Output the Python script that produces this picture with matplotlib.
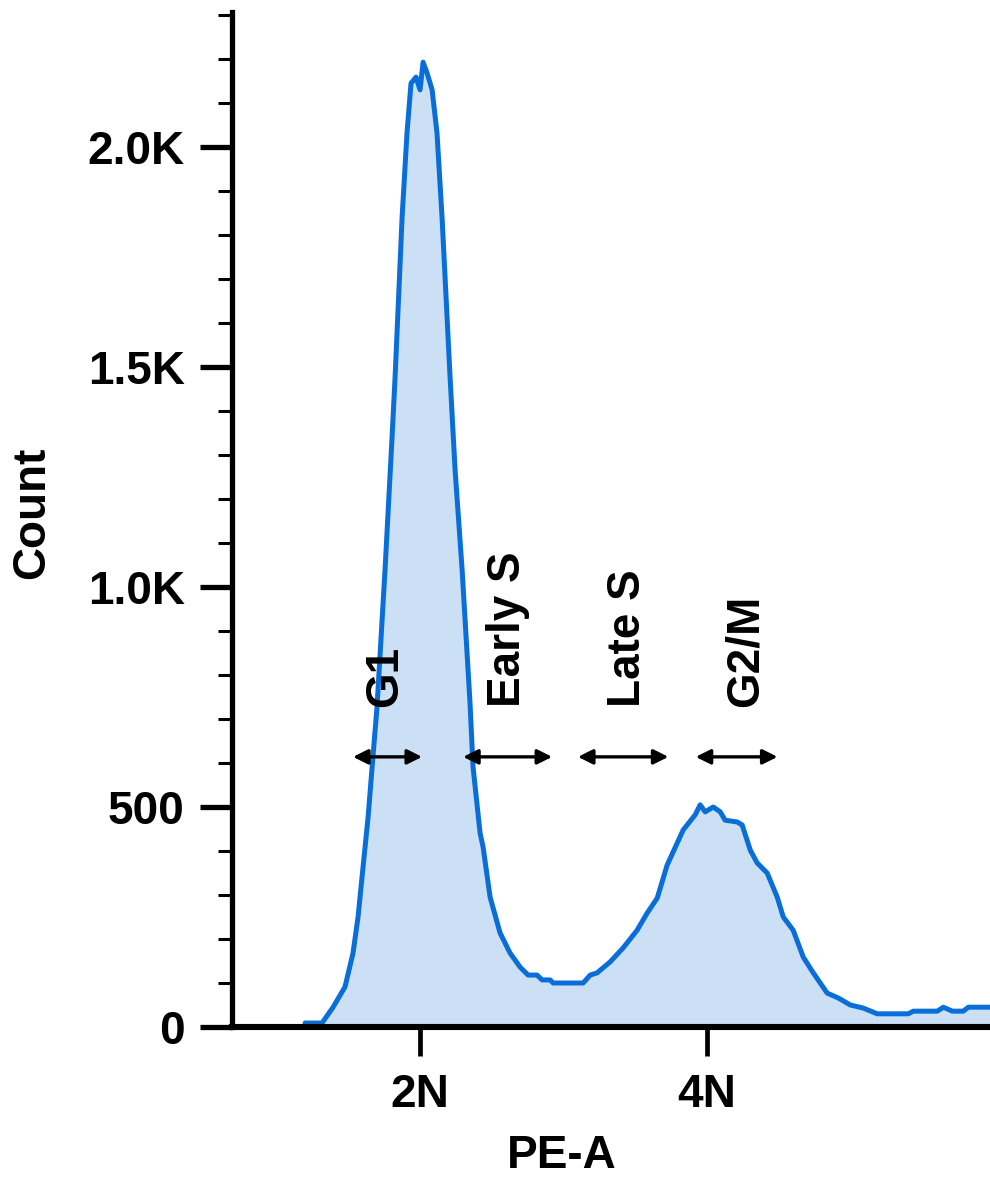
import matplotlib
matplotlib.use('Agg')
import matplotlib.pyplot as plt
from matplotlib.ticker import FixedLocator, MultipleLocator

plt.rcParams['font.family'] = ['Liberation Sans', 'DejaVu Sans']
plt.rcParams['font.weight'] = 'bold'

# PE-A (in units of N) and event counts
pe_a = [1.199, 1.317, 1.394, 1.477, 1.533, 1.568, 1.603, 1.638, 1.666, 1.700,
        1.756, 1.805, 1.826, 1.875, 1.909, 1.937, 1.972, 2.000, 2.021, 2.049,
        2.084, 2.118, 2.153, 2.188, 2.209, 2.244, 2.293, 2.348, 2.369, 2.418,
        2.439, 2.488, 2.557, 2.627, 2.697, 2.753, 2.815, 2.850, 2.906, 2.927,
        3.136, 3.185, 3.233, 3.324, 3.415, 3.512, 3.582, 3.652, 3.721, 3.833,
        3.916, 3.951, 3.986, 4.042, 4.091, 4.125, 4.209, 4.244, 4.300, 4.348,
        4.418, 4.488, 4.530, 4.599, 4.669, 4.739, 4.836, 4.913, 4.997, 5.087,
        5.185, 5.401, 5.436, 5.603, 5.645, 5.707, 5.784, 5.819, 5.972]
count = [9, 9, 45, 91, 168, 250, 364, 477, 591, 727,
         1039, 1341, 1477, 1841, 2032, 2145, 2159, 2130, 2193, 2168,
         2130, 2032, 1841, 1614, 1477, 1266, 1039, 736, 591, 441,
         409, 295, 214, 168, 136, 118, 118, 107, 107, 100,
         100, 118, 123, 148, 180, 220, 259, 293, 368, 448,
         482, 505, 489, 500, 489, 470, 466, 459, 402, 373,
         350, 295, 250, 220, 159, 123, 77, 66, 50, 43,
         30, 30, 36, 36, 45, 36, 36, 45, 45]

x_ticks = [2, 4]
x_tick_labels = ['2N', '4N']
y_ticks = [0, 500, 1000, 1500, 2000]
y_tick_labels = ['0', '500', '1.0K', '1.5K', '2.0K']

phases = ['G1', 'Early S', 'Late S', 'G2/M']
phase_start = [1.533, 2.30, 3.10, 3.92]
phase_end = [2.014, 2.92, 3.73, 4.49]
phase_label_x = [1.84, 2.697, 3.533, 4.348]

fig = plt.figure(figsize=(9.9, 11.77), dpi=100)
ax = fig.add_axes([232 / 990, 1 - 1027 / 1177, 758 / 990, 1015 / 1177])

line_color = '#0a6ed8'
fill_color = '#cce0f5'
ax.fill_between(pe_a, count, 0, color=fill_color, lw=0, zorder=1)
ax.plot(pe_a, count, color=line_color, lw=3.6, zorder=2,
        solid_joinstyle='round', solid_capstyle='round')

ax.set_xlim(0.69, 5.97)
ax.set_ylim(0, 2307)

for s in ['top', 'right']:
    ax.spines[s].set_visible(False)
ax.spines['left'].set_linewidth(3.8)
ax.spines['bottom'].set_linewidth(4.4)
ax.spines['bottom'].set_zorder(3)

ax.xaxis.set_major_locator(FixedLocator(x_ticks))
ax.set_xticklabels(x_tick_labels)
ax.yaxis.set_major_locator(FixedLocator(y_ticks))
ax.set_yticklabels(y_tick_labels)
ax.yaxis.set_minor_locator(MultipleLocator(100))

ax.tick_params(axis='y', which='major', length=23, width=3.8, pad=11,
               labelsize=33, direction='out')
ax.tick_params(axis='y', which='minor', length=10, width=2.2, direction='out')
ax.tick_params(axis='x', which='major', length=21, width=3.4, pad=12,
               labelsize=33, direction='out')

ax.set_xlabel('PE-A', fontsize=33, fontweight='bold')
ax.set_ylabel('Count', fontsize=33, fontweight='bold')
ax.xaxis.set_label_coords(0.435, -0.105)
ax.yaxis.set_label_coords(-0.235, 0.507)

arrow_y = 614
label_y = 727
for name, x0, x1, xl in zip(phases, phase_start, phase_end, phase_label_x):
    ax.annotate('', xy=(x1, arrow_y), xytext=(x0, arrow_y),
                arrowprops=dict(arrowstyle='<|-|>', lw=2.4, color='black',
                                mutation_scale=22, shrinkA=0, shrinkB=0),
                zorder=4)
    ax.text(xl, label_y, name, rotation=90, rotation_mode='anchor',
            ha='left', va='baseline', fontsize=33, fontweight='bold', zorder=4)

fig.savefig('out.png', dpi=100)
